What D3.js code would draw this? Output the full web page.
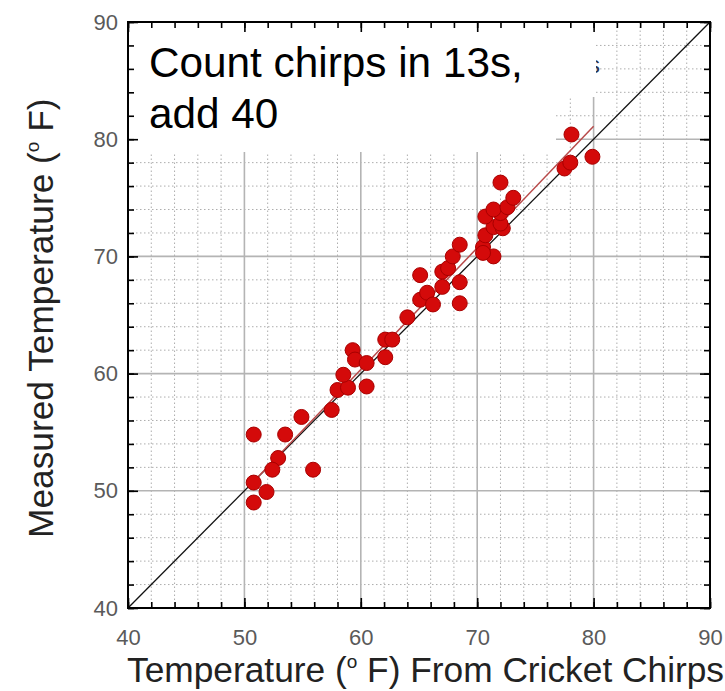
<!DOCTYPE html>
<html>
<head>
<meta charset="utf-8">
<script src="https://cdn.jsdelivr.net/npm/d3@7"></script>
<style>
  body { margin: 0; background: #fff; }
  svg { display: block; font-family: "Liberation Sans", Arial, sans-serif; }
  .minor-grid { stroke: #adadad; stroke-width: 1; stroke-dasharray: 1.5,2.5; }
  .major-grid { stroke: #b4b4b4; stroke-width: 1.6; }
  .axis-title { font-size: 35.3px; fill: #222; }
  .note { font-size: 42.3px; fill: #000; }
  .dot { fill: #d40a0a; stroke: #a80000; stroke-width: 1; }
</style>
</head>
<body>
<svg id="chart" width="725" height="691"></svg>
<script>
'use strict';

// readings: chirp estimate (x) against measured temperature (y)
const chirpTemp = [
  50.8, 53.5, 54.9, 52.9, 52.4, 55.9, 50.8, 51.9, 50.8, 57.5,
  58.0, 58.9, 58.5, 60.5, 59.3, 59.5, 60.5, 62.1, 62.1, 62.7,
  64.0, 65.1, 65.1, 65.7, 66.2, 67.0, 67.0, 67.5, 68.5, 68.5,
  67.9, 68.5, 70.5, 71.4, 70.5, 70.7, 71.4, 72.2, 72.0, 70.7,
  72.0, 71.4, 72.6, 73.1, 72.0, 77.5, 78.0, 78.1, 79.9
];
const measuredTemp = [
  54.8, 54.8, 56.3, 52.8, 51.8, 51.8, 50.7, 49.9, 49.0, 56.9,
  58.6, 58.8, 59.9, 58.9, 62.0, 61.2, 60.9, 61.4, 62.9, 62.9,
  64.8, 68.4, 66.3, 66.9, 65.9, 68.7, 67.4, 69.0, 67.8, 66.0,
  70.0, 71.0, 70.8, 70.0, 70.3, 71.8, 72.5, 72.4, 72.8, 73.4,
  73.7, 74.0, 74.2, 75.0, 76.3, 77.5, 78.0, 80.4, 78.5
];
const majorTicks = [40, 50, 60, 70, 80, 90];
const minorTicks = d3.range(40, 91, 2);
// perfect agreement line and the fitted line (ends)
const identityLine = [[40, 40], [90, 90]];
const fitLine = [[51, 51.0], [80, 81.1]];
const noteLines = ['Count chirps in 13s,', 'add 40'];

const svg = d3.select('#chart');
svg.append('rect').attr('width', 725).attr('height', 691).attr('fill', '#fff');

const x = d3.scaleLinear().domain([40, 90]).range([128, 710]);
const y = d3.scaleLinear().domain([40, 90]).range([608, 22]);

// dotted minor grid, then solid grey major grid
const grid = svg.append('g');
grid.selectAll('.vminor')
    .data(minorTicks.filter(d => d % 10 !== 0))
    .join('line')
    .attr('class', 'minor-grid')
    .attr('x1', d => x(d)).attr('x2', d => x(d))
    .attr('y1', y(40)).attr('y2', y(90));
grid.selectAll('.hminor')
    .data(minorTicks.filter(d => d % 10 !== 0))
    .join('line')
    .attr('class', 'minor-grid')
    .attr('y1', d => y(d)).attr('y2', d => y(d))
    .attr('x1', x(40)).attr('x2', x(90));
grid.append('g').selectAll('line')
    .data(majorTicks)
    .join('line')
    .attr('class', 'major-grid')
    .attr('x1', d => x(d)).attr('x2', d => x(d))
    .attr('y1', y(40)).attr('y2', y(90));
grid.append('g').selectAll('line')
    .data(majorTicks)
    .join('line')
    .attr('class', 'major-grid')
    .attr('y1', d => y(d)).attr('y2', d => y(d))
    .attr('x1', x(40)).attr('x2', x(90));

// white note box pasted over the upper left of the plot
svg.append('path')
   .attr('fill', '#fff')
   .attr('d', 'M129,23 H596 V97 H556 V152 H129 Z');
svg.selectAll('.note')
   .data(noteLines)
   .join('text')
   .attr('class', 'note')
   .attr('x', 149)
   .attr('y', (d, i) => 77 + i * 51)
   .text(d => d);
// a clipped glyph left over from the pasted box's edge
svg.append('text')
   .attr('x', 588).attr('y', 73)
   .attr('font-size', '24px')
   .attr('fill', '#2a3550')
   .attr('clip-path', 'inset(0 0 0 8px)')
   .text('s');

const line = d3.line().x(d => x(d[0])).y(d => y(d[1]));
svg.append('path')
   .datum(identityLine)
   .attr('d', line)
   .attr('fill', 'none')
   .attr('stroke', '#111')
   .attr('stroke-width', 1.3);
svg.append('path')
   .datum(fitLine)
   .attr('d', line)
   .attr('fill', 'none')
   .attr('stroke', '#b84a4a')
   .attr('stroke-width', 1.5);

svg.append('g')
   .selectAll('circle')
   .data(chirpTemp)
   .join('circle')
   .attr('class', 'dot')
   .attr('cx', d => x(d))
   .attr('cy', (d, i) => y(measuredTemp[i]))
   .attr('r', 7.5);

// ticks on all four sides, pointing inwards
const styleAxis = function(g) {
  g.select('.domain').remove();
  g.selectAll('line').attr('stroke', '#000').attr('stroke-width', 1.6);
  g.selectAll('text')
   .attr('font-family', '"Liberation Sans", Arial, sans-serif')
   .attr('font-size', '22px')
   .attr('fill', '#5a5a5a');
};
const sides = [
  [d3.axisBottom(x), `translate(0,${y(40)})`, true],
  [d3.axisTop(x), `translate(0,${y(90)})`, false],
  [d3.axisLeft(y), `translate(${x(40)},0)`, true],
  [d3.axisRight(y), `translate(${x(90)},0)`, false]
];
sides.forEach(([axis, transform, labelled]) => {
  svg.append('g')
     .attr('transform', transform)
     .call(axis.tickValues(minorTicks).tickSize(-6).tickSizeOuter(0).tickFormat(''))
     .call(styleAxis);
  svg.append('g')
     .attr('transform', transform)
     .call(axis.tickValues(majorTicks).tickSize(-10).tickSizeOuter(0)
               .tickPadding(labelled ? 10 : 0)
               .tickFormat(labelled ? d3.format('d') : ''))
     .call(styleAxis);
});
// bottom labels sit a bit further down than the left ones
svg.selectAll('g').filter(function() {
  return d3.select(this).attr('transform') === `translate(0,${y(40)})`;
}).selectAll('text').attr('y', 21);

svg.append('rect')
   .attr('x', x(40)).attr('y', y(90))
   .attr('width', x(90) - x(40)).attr('height', y(40) - y(90))
   .attr('fill', 'none')
   .attr('stroke', '#000')
   .attr('stroke-width', 2);

// axis titles with the raised "o" for degrees
const xTitle = svg.append('text')
   .attr('class', 'axis-title')
   .attr('x', 127)
   .attr('y', 682);
xTitle.append('tspan').text('Temperature (');
xTitle.append('tspan').attr('font-size', '19px').attr('dy', -14).text('o');
xTitle.append('tspan').attr('dy', 14).text(' F) From Cricket Chirps');

const yTitle = svg.append('text')
   .attr('class', 'axis-title')
   .attr('transform', 'translate(53,538) rotate(-90)');
yTitle.append('tspan').text('Measured Temperature (');
yTitle.append('tspan').attr('font-size', '19px').attr('dy', -14).text('o');
yTitle.append('tspan').attr('dy', 14).text(' F)');
</script>
</body>
</html>
